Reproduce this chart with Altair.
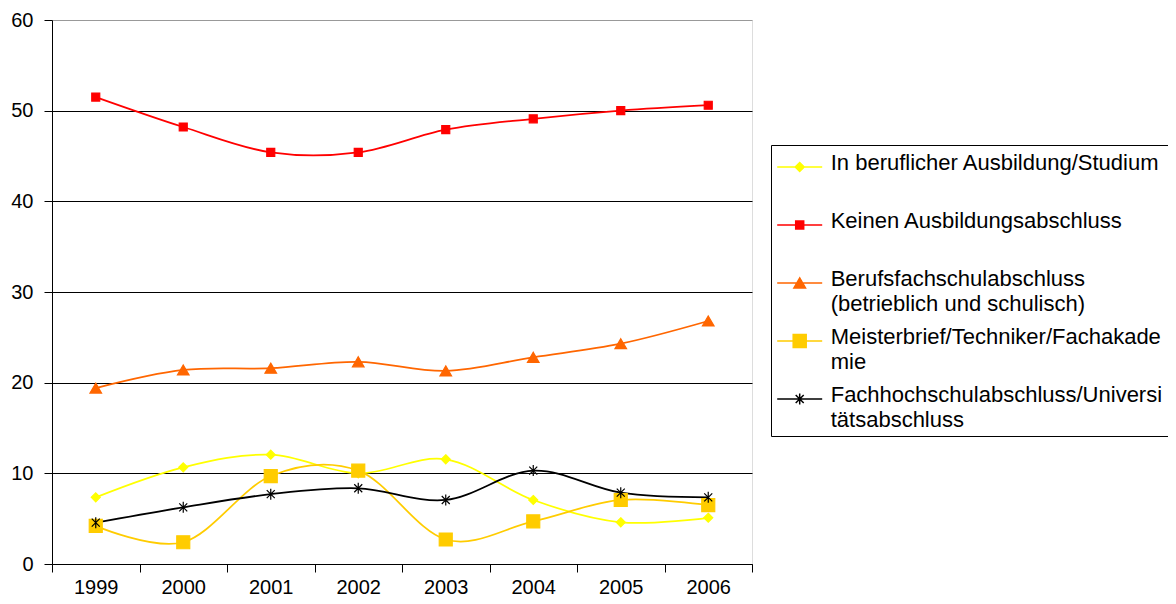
import json
import altair as alt
import pandas as pd

years = ["1999", "2000", "2001", "2002", "2003", "2004", "2005", "2006"]

series = [
    "In beruflicher Ausbildung/Studium",
    "Keinen Ausbildungsabschluss",
    "Berufsfachschulabschluss (betrieblich und schulisch)",
    "Meisterbrief/Techniker/Fachakademie",
    "Fachhochschulabschluss/Universitätsabschluss",
]

legend_lines = [
    ["In beruflicher Ausbildung/Studium", " "],
    ["Keinen Ausbildungsabschluss", " "],
    ["Berufsfachschulabschluss", "(betrieblich und schulisch)"],
    ["Meisterbrief/Techniker/Fachakade", "mie"],
    ["Fachhochschulabschluss/Universi", "tätsabschluss"],
]

in_ausbildung = [7.35, 10.66, 12.06, 10.0, 11.55, 7.06, 4.6, 5.1]
kein_abschluss = [51.5, 48.2, 45.4, 45.4, 47.9, 49.1, 50.0, 50.6]
berufsfach = [19.4, 21.4, 21.6, 22.3, 21.3, 22.8, 24.3, 26.8]
meister = [4.2, 2.4, 9.7, 10.3, 2.7, 4.7, 7.06, 6.5]
hochschule = [4.56, 6.25, 7.7, 8.35, 7.06, 10.3, 7.87, 7.35]

all_values = [in_ausbildung, kein_abschluss, berufsfach, meister, hochschule]

line_colors = ["#FFFF00", "#FF0000", "#FF6600", "#FFCC00", "#000000"]
marker_colors = ["#FFFF00", "#FF0000", "#FF6600", "#FFCC00", "#000000"]

marker_paths = [
    "M0,-4.5L4.5,0L0,4.5L-4.5,0Z",
    "M-4,-4H4V4H-4Z",
    "M0,-5L5.8,5H-5.8Z",
    "M-6.5,-6.5H6.5V6.5H-6.5Z",
    "M-4,-4L4,4M-4,4L4,-4M0,-5.5V5.5",
]
legend_paths = [
    "M-22.5,-3H22.5M0,-7.5L4.5,-3L0,1.5L-4.5,-3Z",
    "M-22.5,-3H22.5M-4,-7H4V1H-4Z",
    "M-22.5,-3H22.5M0,-8L5.8,2H-5.8Z",
    "M-22.5,-3H22.5M-6.5,-9.5H6.5V3.5H-6.5Z",
    "M-22.5,-3H22.5M-4,-7L4,1M-4,1L4,-7M0,-8.5V2.5",
]

rows = []
for s, vals in zip(series, all_values):
    for yr, v in zip(years, vals):
        rows.append({"year": yr, "series": s, "value": v})
df = pd.DataFrame(rows)

label_expr = f"{json.dumps(legend_lines, ensure_ascii=False)}[indexof({json.dumps(series, ensure_ascii=False)}, datum.value)]"

x_enc = alt.X(
    "year:O",
    title=None,
    bandPosition=0.5,
    scale=alt.Scale(type="band", paddingInner=0, paddingOuter=0),
    axis=alt.Axis(
        labelAngle=0,
        tickBand="extent",
        tickSize=8,
        labelPadding=5,
        grid=False,
        domainColor="black",
        tickColor="black",
        labelColor="black",
        labelFont="Liberation Sans",
        labelFontSize=20,
    ),
)
y_enc = alt.Y(
    "value:Q",
    title=None,
    scale=alt.Scale(domain=[0, 60]),
    axis=alt.Axis(
        values=[0, 10, 20, 30, 40, 50, 60],
        grid=True,
        gridColor={"condition": {"test": "datum.value === 60", "value": "#999999"}, "value": "#000000"},
        gridWidth=1,
        tickSize=8,
        labelPadding=11,
        domainColor="black",
        tickColor="black",
        labelColor="black",
        labelFont="Liberation Sans",
        labelFontSize=20,
    ),
)

color_scale_line = alt.Scale(domain=series, range=line_colors)
color_scale_marker = alt.Scale(domain=series, range=marker_colors)

base = alt.Chart(df)

lines = base.mark_line(interpolate="cardinal", tension=0, strokeWidth=1.75).encode(
    x=x_enc,
    y=y_enc,
    stroke=alt.Stroke("series:N", scale=color_scale_line, legend=None),
)

points = base.mark_point(filled=True, size=4, strokeWidth=1.2, opacity=1).encode(
    x=x_enc,
    y=y_enc,
    fill=alt.Fill("series:N", scale=color_scale_marker, legend=None),
    stroke=alt.Stroke("series:N", scale=color_scale_marker, legend=None),
    shape=alt.Shape("series:N", scale=alt.Scale(domain=series, range=marker_paths), legend=None),
)

leg = alt.Legend(
    title=" ",
    titleFontSize=1,
    titlePadding=8,
    orient="none",
    legendX=719,
    legendY=125,
    labelExpr=label_expr,
    labelFont="Liberation Sans",
    labelFontSize=22,
    labelColor="black",
    labelLimit=1000,
    labelBaseline="alphabetic",
    symbolSize=4,
    symbolStrokeWidth=1.5,
    symbolOffset=12.7,
    labelOffset=20,
    padding=5,
    rowPadding=11,
    strokeColor="black",
    fillColor="white",
)

legend_layer = base.mark_point(filled=True, size=4, strokeWidth=1.5, opacity=1).encode(
    x=x_enc,
    y=y_enc,
    fill=alt.Fill("series:N", scale=alt.Scale(domain=series, range=marker_colors), legend=leg),
    stroke=alt.Stroke("series:N", scale=alt.Scale(domain=series, range=line_colors), legend=leg),
    shape=alt.Shape("series:N", scale=alt.Scale(domain=series, range=legend_paths), legend=leg),
).transform_filter("false")

chart = (
    alt.layer(lines, points, legend_layer)
    .resolve_scale(fill="independent", stroke="independent", shape="independent")
    .properties(
        width=700,
        height=544,
        autosize=alt.AutoSizeParams(type="none"),
        padding={"left": 44, "top": 12, "right": 416, "bottom": 32},
        background="white",
    )
    .configure_view(stroke="#999999", strokeWidth=1.5)
    .configure(style={"guide-label": {"lineHeight": 25}})
)

chart.save("out.html", embed_options={"renderer": "svg", "actions": False})
